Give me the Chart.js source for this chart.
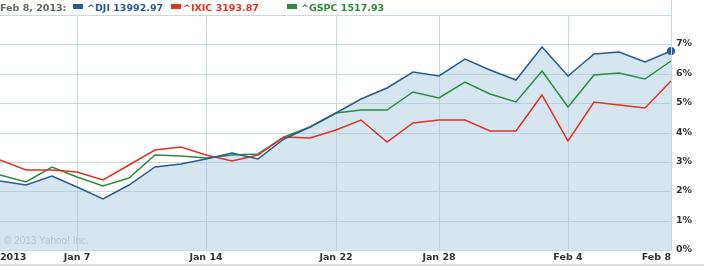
<!DOCTYPE html>
<html>
<head>
<meta charset="utf-8">
<script src="https://cdn.jsdelivr.net/npm/chart.js@4/dist/chart.umd.min.js"></script>
<style>
    html, body { margin: 0; padding: 0; background: #fff; }
    #wrap { position: relative; width: 704px; height: 267px; overflow: hidden; }
    #chart { position: absolute; left: 0; top: 0; }
    .hdr { position: absolute; top: 1px; font: bold 9.5px "DejaVu Sans", sans-serif; line-height: 14px; white-space: nowrap; }
    .sq { position: absolute; top: 4px; width: 10px; height: 5px; }
    #copy { position: absolute; left: 4px; top: 235px; font: 10px "Liberation Sans", Arial, sans-serif; color: #b4c5d1; line-height: 12px; }
</style>
</head>
<body>
<div id="wrap">
    <canvas id="chart" width="704" height="267"></canvas>
    <div class="hdr" style="left:0;color:#666">Feb 8, 2013:</div>
    <div class="sq" style="left:73px;background:#2a5a92"></div>
    <div class="hdr" style="left:87px;color:#2a5a92">^DJI 13992.97</div>
    <div class="sq" style="left:171px;background:#e2321f"></div>
    <div class="hdr" style="left:183px;color:#e2321f">^IXIC 3193.87</div>
    <div class="sq" style="left:287px;background:#2e8a3c"></div>
    <div class="hdr" style="left:301px;color:#2e8a3c">^GSPC 1517.93</div>
    <div id="copy">© 2013 Yahoo! Inc.</div>
</div>
<script>
// trading days, Jan 2 - Feb 8 2013
const dates = ['Jan 2', 'Jan 3', 'Jan 4', 'Jan 7', 'Jan 8', 'Jan 9', 'Jan 10', 'Jan 11',
    'Jan 14', 'Jan 15', 'Jan 16', 'Jan 17', 'Jan 18', 'Jan 22', 'Jan 23', 'Jan 24', 'Jan 25',
    'Jan 28', 'Jan 29', 'Jan 30', 'Jan 31', 'Feb 1', 'Feb 4', 'Feb 5', 'Feb 6', 'Feb 7', 'Feb 8'];

// % change since Dec 31 2012
const dji = [2.36, 2.2, 2.53, 2.16, 1.73, 2.2, 2.81, 2.94, 3.09, 3.3, 3.11, 3.77, 4.18, 4.66,
    5.15, 5.5, 6.05, 5.93, 6.5, 6.13, 5.8, 6.9, 5.92, 6.67, 6.74, 6.41, 6.78];
const ixic = [3.07, 2.71, 2.72, 2.65, 2.39, 2.88, 3.39, 3.52, 3.23, 3.04, 3.24, 3.84, 3.81,
    4.08, 4.44, 3.69, 4.33, 4.44, 4.44, 4.05, 4.05, 5.27, 3.72, 5.04, 4.95, 4.84, 5.77];
const gspc = [2.56, 2.33, 2.83, 2.5, 2.19, 2.46, 3.25, 3.2, 3.14, 3.23, 3.27, 3.84, 4.19,
    4.67, 4.78, 4.78, 5.37, 5.19, 5.72, 5.31, 5.04, 6.08, 4.87, 5.95, 6.03, 5.81, 6.43];

const tickDates = ['Jan 2', 'Jan 7', 'Jan 14', 'Jan 22', 'Jan 28', 'Feb 4', 'Feb 8'];
const tickText = ['2013', 'Jan 7', 'Jan 14', 'Jan 22', 'Jan 28', 'Feb 4', 'Feb 8'];
const yTicks = [0, 1, 2, 3, 4, 5, 6, 7, 8];

const gridColor = '#c9d9e4';
const font = { family: '"DejaVu Sans", sans-serif', size: 9.5, weight: 'bold' };

const frame = {
    id: 'frame',
    afterDraw(chart) {
        const { ctx, chartArea } = chart;
        ctx.save();
        ctx.fillStyle = gridColor;
        ctx.fillRect(Math.round(chartArea.right), 0, 1, Math.round(chartArea.bottom) + 1);
        ctx.fillStyle = '#dedede';
        ctx.fillRect(0, 264, chart.width, 2);
        ctx.restore();
    },
};

new Chart(document.getElementById('chart'), {
    type: 'line',
    data: {
        labels: dates,
        datasets: [
            {
                label: '^DJI',
                data: dji,
                borderColor: '#2a5a92',
                backgroundColor: 'rgba(164, 199, 224, 0.45)',
                fill: 'origin',
                pointRadius: (c) => (c.dataIndex === dji.length - 1 ? 4 : 0),
                pointBackgroundColor: '#2a5a92',
                pointBorderColor: '#2a5a92',
                pointBorderWidth: 0,
            },
            { label: '^IXIC', data: ixic, borderColor: '#e2321f', fill: false, pointRadius: 0 },
            { label: '^GSPC', data: gspc, borderColor: '#2e8a3c', fill: false, pointRadius: 0 },
        ],
    },
    plugins: [frame],
    options: {
        responsive: false,
        animation: false,
        events: [],
        elements: { line: { borderWidth: 1.5, tension: 0 } },
        layout: { autoPadding: false, padding: { top: 15, left: 0, right: 0, bottom: 0 } },
        plugins: {
            legend: { display: false },
            tooltip: { enabled: false },
            filler: { drawTime: 'beforeDatasetsDraw' },
        },
        scales: {
            x: {
                offset: false,
                alignToPixels: true,
                border: { display: false },
                grid: {
                    drawTicks: false,
                    color: (c) => {
                        const k = tickDates.indexOf(dates[c.index]);
                        return k > 0 && k < tickDates.length - 1 ? gridColor : 'rgba(0,0,0,0)';
                    },
                },
                ticks: {
                    autoSkip: false,
                    maxRotation: 0,
                    align: 'inner',
                    padding: 0,
                    color: '#333',
                    font: { ...font, lineHeight: 1.62 },
                    callback: (v, i) => {
                        const k = tickDates.indexOf(dates[i]);
                        return k >= 0 ? tickText[k] : '';
                    },
                },
                afterFit: (s) => { s.height = 17; },
            },
            y: {
                position: 'right',
                min: yTicks[0],
                max: yTicks[yTicks.length - 1],
                alignToPixels: true,
                border: { display: false },
                grid: { drawTicks: false, color: gridColor },
                ticks: {
                    stepSize: 1,
                    padding: 5,
                    color: '#333',
                    font,
                    callback: (v) => (v === yTicks[yTicks.length - 1] ? '' : v + '%'),
                },
                afterFit: (s) => { s.width = 33; },
            },
        },
    },
});
</script>
</body>
</html>
